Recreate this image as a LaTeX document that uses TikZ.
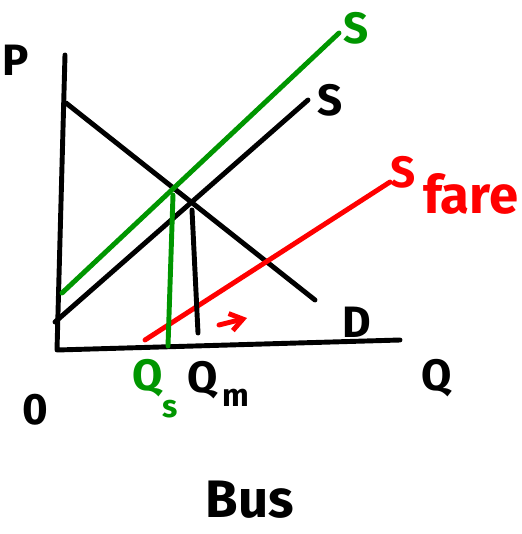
\documentclass[tikz,border=0pt]{standalone}
\usepackage{fontspec}
\setsansfont{Fira Sans}
\usetikzlibrary{arrows.meta,positioning}
\definecolor{penred}{RGB}{255,0,0}
\definecolor{pengreen}{RGB}{0,150,0}
\begin{document}
\begin{tikzpicture}[
    x=0.02cm,y=-0.02cm,
    pen/.style={line width=2.8pt,line cap=round,line join=round},
    lbl/.style={font=\sffamily\bfseries\fontsize{25}{27}\selectfont,inner sep=0pt},
    sublbl/.style={font=\sffamily\bfseries\fontsize{18}{20}\selectfont,inner sep=0pt},
    arrow/.style={pen,-{Straight Barb[length=2.5mm,width=3.5mm]}}
  ]
    \useasboundingbox (0,0) rectangle (521,534);
    % axes
    \coordinate (ptop) at (65,55);
    \coordinate (origin) at (57,350);
    \coordinate (qend) at (400,340);
    \draw[pen] (ptop)--(origin)--(qend);
    \node[lbl] (p) at (16,60) {P};
    \node[lbl] (q) at (437,378) {Q};
    \node[lbl] (zero) at (35,410) {0};
    % demand
    \coordinate (d1) at (66,103);
    \coordinate (d2) at (315,300);
    \draw[pen] (d1)--(d2);
    \node[lbl] (dlab) at (357,322) {D};
    % supply, market
    \coordinate (s1) at (55,322);
    \coordinate (s2) at (308,100);
    \draw[pen] (s1)--(s2);
    \node[lbl] (slab) at (330,100) {S};
    % supply, social
    \coordinate (g1) at (62,293);
    \coordinate (g2) at (339,33);
    \draw[pen,pengreen] (g1)--(g2);
    \node[lbl,pengreen] (glab) at (356,28) {S};
    % supply with fare
    \coordinate (r1) at (145,340);
    \coordinate (r2) at (390,182);
    \draw[pen,penred] (r1)--(r2);
    \node[lbl,penred] (rlab) at (403,172) {S};
    \node[lbl,penred,anchor=west,font=\sffamily\bfseries\fontsize{30}{32}\selectfont] (fare) at (423,194) {fare};
    \coordinate (a1) at (219,325);
    \coordinate (a2) at (247,318);
    \draw[arrow,penred] (a1)--(a2);
    % quantities
    \coordinate (m1) at (192,210);
    \coordinate (m2) at (198,333);
    \draw[pen] (m1)--(m2);
    \node[lbl] (qm) at (203,380) {Q};
    \node[sublbl] (qmsub) at (236,398) {m};
    \coordinate (k1) at (173,195);
    \coordinate (k2) at (168,346);
    \draw[pen,pengreen] (k1)--(k2);
    \node[lbl,pengreen] (qs) at (148,378) {Q};
    \node[sublbl,pengreen] (qssub) at (170,409) {s};
    % title
    \node[lbl,font=\sffamily\bfseries\fontsize{30}{32}\selectfont] (bus) at (250,500) {Bus};
  \end{tikzpicture}
\end{document}
